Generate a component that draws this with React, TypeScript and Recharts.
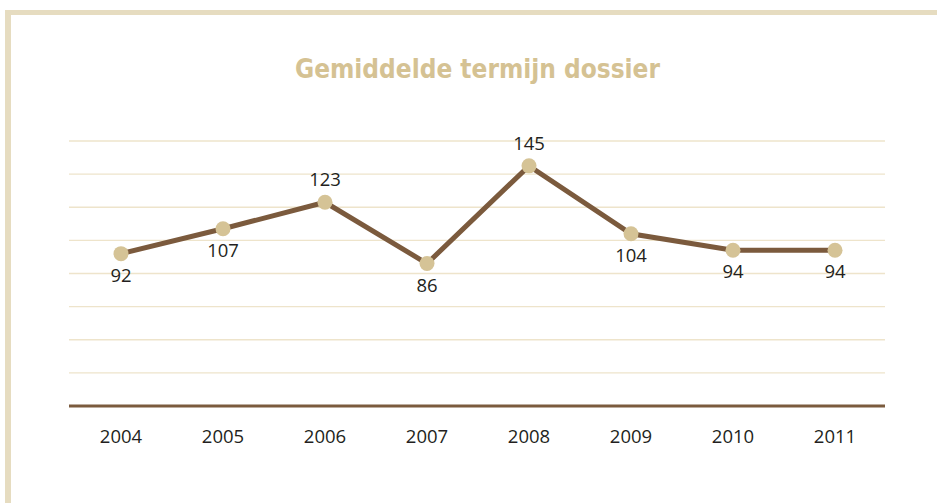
import { LineChart, Line, XAxis, YAxis, CartesianGrid, LabelList } from 'recharts'

const years = ['2004', '2005', '2006', '2007', '2008', '2009', '2010', '2011']
const termijn = [92, 107, 123, 86, 145, 104, 94, 94]
const yTicks = [0, 20, 40, 60, 80, 100, 120, 140, 160]

const data = years.map((year, i) => ({ year, termijn: termijn[i] }))

const FONT = '"Open Sans", "Noto Sans", sans-serif'

// label goes above the point only on a peak, below otherwise
function ValueLabel(props: any) {
  const { x, y, value, index } = props
  const prev = index > 0 ? termijn[index - 1] : -Infinity
  const next = index < termijn.length - 1 ? termijn[index + 1] : -Infinity
  const above = value > prev && value > next
  return (
    <text x={x} y={above ? y - 16 : y + 28} textAnchor="middle" fill="#231f20" fontSize={18.5} fontFamily={FONT}>
      {value}
    </text>
  )
}

export default function App() {
  return (
    <div style={{ position: 'absolute', left: 0, top: 0, width: 937, height: 503, background: '#fff', overflow: 'hidden' }}>
      <svg width={937} height={503} style={{ position: 'absolute', left: 0, top: 0 }}>
        <rect x={5} y={10} width={940} height={5} fill="#E6DCC0" />
        <rect x={5} y={10} width={6} height={500} fill="#E6DCC0" />
        <text
          x={295}
          y={78}
          textLength={365}
          lengthAdjust="spacingAndGlyphs"
          fill="#D5C293"
          fontSize={27}
          fontWeight="bold"
          fontFamily='"DejaVu Sans Condensed", "DejaVu Sans", sans-serif'
        >
          Gemiddelde termijn dossier
        </text>
      </svg>
      <div style={{ position: 'absolute', left: 0, top: 0 }}>
        <LineChart width={937} height={503} data={data} margin={{ top: 141, right: 52, bottom: 67, left: 69 }}>
          <CartesianGrid vertical={false} stroke="#EEE4CB" strokeWidth={1.3} />
          <YAxis hide domain={[0, 160]} ticks={yTicks} />
          <XAxis
            dataKey="year"
            height={30}
            padding={{ left: 52, right: 50 }}
            axisLine={{ stroke: '#7B5B3E', strokeWidth: 3 }}
            tickLine={false}
            tickSize={0}
            tickMargin={24}
            tick={{ fill: '#231f20', fontSize: 18.5, fontFamily: FONT }}
          />
          <Line
            type="linear"
            dataKey="termijn"
            stroke="#7B5A3D"
            strokeWidth={5}
            dot={{ r: 7.5, fill: '#D5C396', stroke: 'none' }}
            activeDot={false}
            isAnimationActive={false}
          >
            <LabelList dataKey="termijn" content={ValueLabel} />
          </Line>
        </LineChart>
      </div>
    </div>
  )
}
